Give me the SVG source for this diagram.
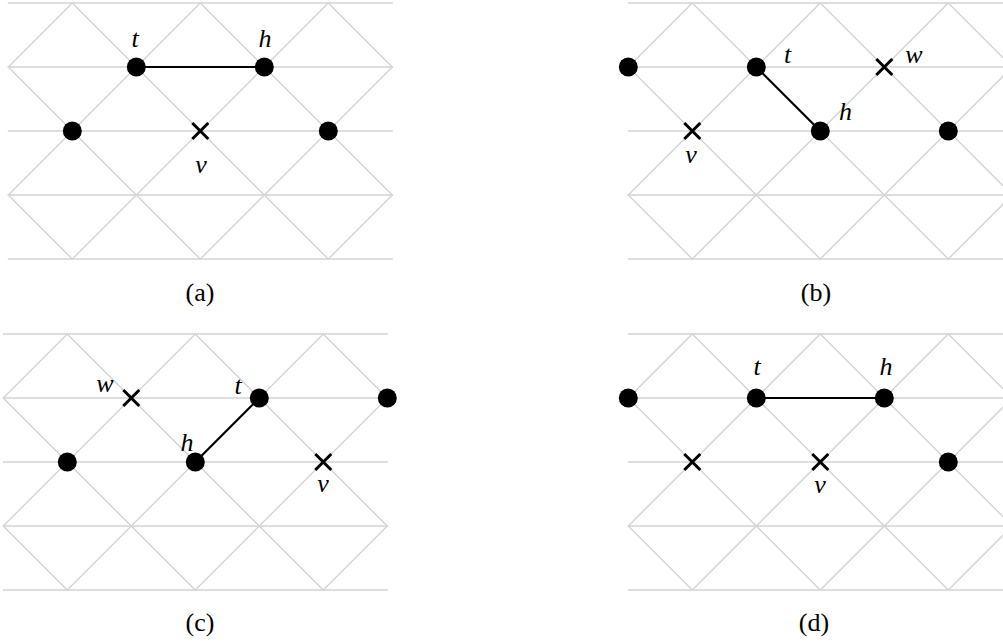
<svg xmlns="http://www.w3.org/2000/svg" xmlns:xlink="http://www.w3.org/1999/xlink" width="1003" height="641" viewBox="0 0 1003 641">
<style>
.g{stroke:#d3d3d3;stroke-width:1.4;fill:none;stroke-linecap:round}
.dot{fill:#000}
.x{stroke:#000;stroke-width:3;fill:none}
.e{stroke:#000;stroke-width:2.2;fill:none}
text{font-family:'Liberation Serif','Times New Roman','DejaVu Serif',serif;fill:#000;text-anchor:middle}
.lab{font-style:italic;font-size:26px}
.cap{font-size:26px}
</style>
<defs>
<g id="grid" class="g">
<path d="M0,0H384M0,64H384M0,128H384M0,192H384M0,256H384"/>
<path d="M0,192L64,256M0,64L192,256M64,0L320,256M192,0L384,192M320,0L384,64"/>
<path d="M64,0L0,64M192,0L0,192M320,0L64,256M384,64L192,256M384,192L320,256"/>
</g>
<path id="cross" d="M-8,-8L8,8M8,-8L-8,8"/>
</defs>

<g id="panel-a">
<use xlink:href="#grid" x="8.3" y="3"/>
<g id="connectors-a"><line class="e" x1="136.3" y1="67" x2="264.3" y2="67"/></g>
<g id="a-t"><circle class="dot" cx="136.3" cy="67" r="9.5"/><text class="lab" x="135" y="47">t</text></g>
<g id="a-h"><circle class="dot" cx="264.3" cy="67" r="9.5"/><text class="lab" x="265" y="47">h</text></g>
<g id="a-l"><circle class="dot" cx="72.3" cy="131" r="9.5"/></g>
<g id="a-r"><circle class="dot" cx="328.3" cy="131" r="9.5"/></g>
<g id="a-v"><use xlink:href="#cross" class="x" x="200.3" y="131"/><text class="lab" x="201" y="173">v</text></g>
<text class="cap" x="200" y="301">(a)</text>
</g>

<g id="panel-b">
<use xlink:href="#grid" x="628.3" y="3"/>
<g id="connectors-b"><line class="e" x1="756.3" y1="67" x2="820.3" y2="131"/></g>
<g id="b-l"><circle class="dot" cx="628.3" cy="67" r="9.5"/></g>
<g id="b-t"><circle class="dot" cx="756.3" cy="67" r="9.5"/><text class="lab" x="787.5" y="63">t</text></g>
<g id="b-w"><use xlink:href="#cross" class="x" x="884.3" y="67"/><text class="lab" x="914" y="63">w</text></g>
<g id="b-v"><use xlink:href="#cross" class="x" x="692.3" y="131"/><text class="lab" x="691" y="163">v</text></g>
<g id="b-h"><circle class="dot" cx="820.3" cy="131" r="9.5"/><text class="lab" x="845.5" y="120">h</text></g>
<g id="b-r"><circle class="dot" cx="948.3" cy="131" r="9.5"/></g>
<text class="cap" x="816" y="301">(b)</text>
</g>

<g id="panel-c">
<use xlink:href="#grid" x="3.3" y="334"/>
<g id="connectors-c"><line class="e" x1="259.3" y1="398" x2="195.3" y2="462"/></g>
<g id="c-w"><use xlink:href="#cross" class="x" x="131.3" y="398"/><text class="lab" x="105" y="392">w</text></g>
<g id="c-t"><circle class="dot" cx="259.3" cy="398" r="9.5"/><text class="lab" x="238" y="394">t</text></g>
<g id="c-r"><circle class="dot" cx="387.3" cy="398" r="9.5"/></g>
<g id="c-l"><circle class="dot" cx="67.3" cy="462" r="9.5"/></g>
<g id="c-h"><circle class="dot" cx="195.3" cy="462" r="9.5"/><text class="lab" x="187" y="451">h</text></g>
<g id="c-v"><use xlink:href="#cross" class="x" x="323.3" y="462"/><text class="lab" x="323" y="492">v</text></g>
<text class="cap" x="200" y="631">(c)</text>
</g>

<g id="panel-d">
<use xlink:href="#grid" x="628.3" y="334"/>
<g id="connectors-d"><line class="e" x1="756.3" y1="398" x2="884.3" y2="398"/></g>
<g id="d-l"><circle class="dot" cx="628.3" cy="398" r="9.5"/></g>
<g id="d-t"><circle class="dot" cx="756.3" cy="398" r="9.5"/><text class="lab" x="757" y="375">t</text></g>
<g id="d-h"><circle class="dot" cx="884.3" cy="398" r="9.5"/><text class="lab" x="886" y="375">h</text></g>
<g id="d-x"><use xlink:href="#cross" class="x" x="692.3" y="462"/></g>
<g id="d-v"><use xlink:href="#cross" class="x" x="820.3" y="462"/><text class="lab" x="820" y="493">v</text></g>
<g id="d-r"><circle class="dot" cx="948.3" cy="462" r="9.5"/></g>
<text class="cap" x="814" y="631">(d)</text>
</g>
</svg>
